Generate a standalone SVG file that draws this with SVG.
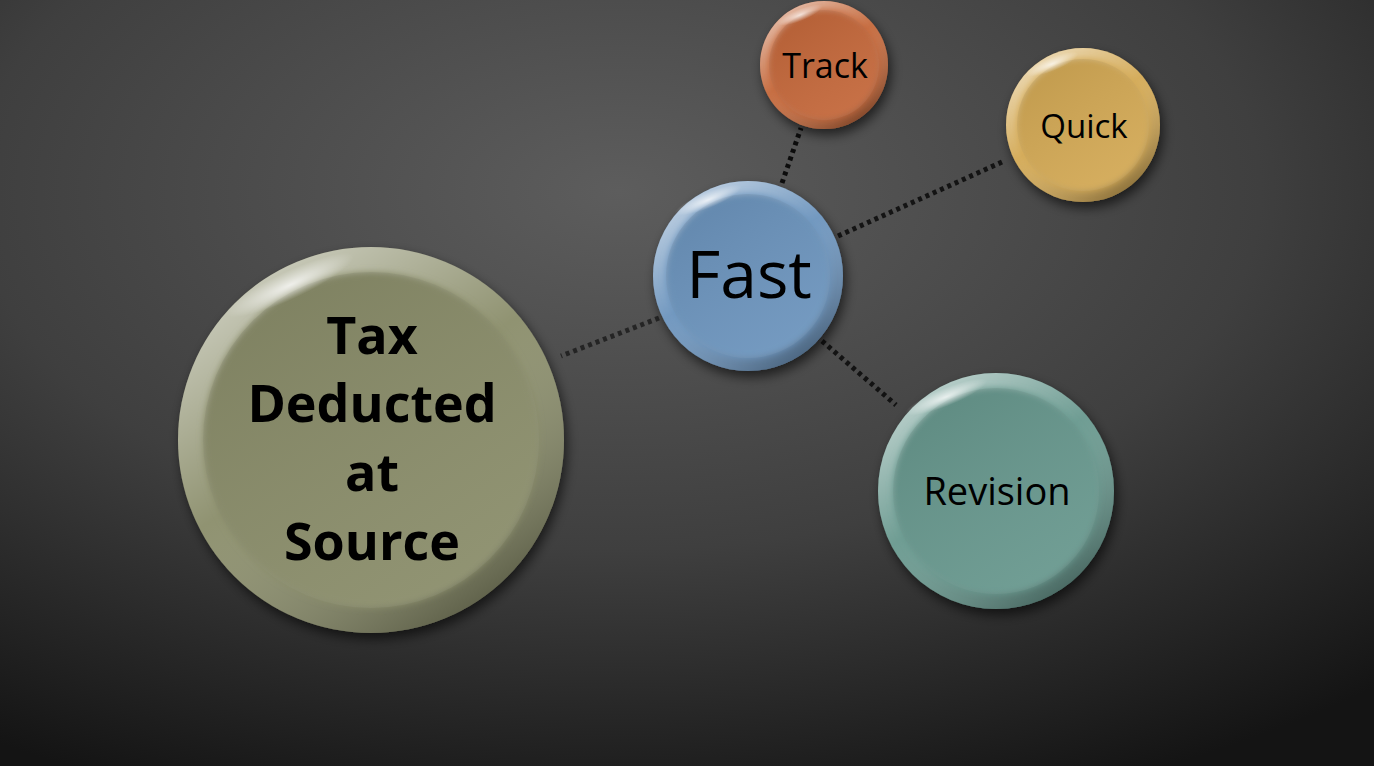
<svg xmlns="http://www.w3.org/2000/svg" width="1374" height="766" viewBox="0 0 1374 766">
<style>
.lbl{font-family:"Open Sans","Noto Sans",sans-serif;fill:#000;text-anchor:middle}
.b{font-weight:bold}
.conn{stroke:#000;stroke-width:5;stroke-dasharray:4 4;fill:none}
.rim{fill:url(#rimG)}
.inner{fill:url(#innerG)}
</style>
<defs>
<radialGradient id="bg" cx="0.45" cy="0.25" r="0.85">
<stop offset="0" stop-color="#5d5d5d"/>
<stop offset="0.55" stop-color="#3f3f3f"/>
<stop offset="1" stop-color="#141414"/>
</radialGradient>
<linearGradient id="rimG" x1="0.2" y1="0.05" x2="0.8" y2="0.95">
<stop offset="0" stop-color="#fff" stop-opacity="0.55"/>
<stop offset="0.45" stop-color="#fff" stop-opacity="0.05"/>
<stop offset="1" stop-color="#000" stop-opacity="0.35"/>
</linearGradient>
<linearGradient id="innerG" x1="0.2" y1="0.05" x2="0.8" y2="0.95">
<stop offset="0" stop-color="#000" stop-opacity="0.08"/>
<stop offset="1" stop-color="#fff" stop-opacity="0.06"/>
</linearGradient>
<radialGradient id="spec" cx="0.5" cy="0.5" r="0.5">
<stop offset="0" stop-color="#fff" stop-opacity="0.75"/>
<stop offset="1" stop-color="#fff" stop-opacity="0"/>
</radialGradient>
<linearGradient id="fadeA" x1="0" y1="0" x2="1" y2="0">
<stop offset="0" stop-color="#000"/>
<stop offset="1" stop-color="#000" stop-opacity="0.3"/>
</linearGradient>
<filter id="sh" x="-20%" y="-20%" width="140%" height="140%">
<feDropShadow dx="3" dy="6" stdDeviation="6" flood-color="#000" flood-opacity="0.6"/>
</filter>
<filter id="blur"><feGaussianBlur stdDeviation="3"/></filter>
</defs>
<rect width="1374" height="766" fill="url(#bg)"/>
<g id="connectors">
<line class="conn" x1="782" y1="183" x2="801" y2="128" stroke-opacity="0.85"/>
<line class="conn" x1="838" y1="236" x2="1002" y2="162" stroke-opacity="0.75"/>
<line class="conn" x1="659" y1="318" x2="561" y2="356" stroke-opacity="0.55"/>
<line class="conn" x1="822" y1="341" x2="896" y2="405" stroke-opacity="0.75"/>
</g>
<g id="node-tax">
<circle cx="371" cy="440" r="193" fill="#8a8d6b" filter="url(#sh)"/>
<circle class="rim" cx="371" cy="440" r="193"/>
<circle cx="371" cy="440" r="168" fill="#8a8d6b" filter="url(#blur)"/>
<circle class="inner" cx="371" cy="440" r="168"/>
<ellipse cx="290" cy="285" rx="70" ry="14" transform="rotate(-25 290 285)" fill="url(#spec)"/>
<text class="lbl b" x="372" y="354" font-size="52">Tax</text>
<text class="lbl b" x="372" y="422" font-size="52">Deducted</text>
<text class="lbl b" x="372" y="491" font-size="52">at</text>
<text class="lbl b" x="372" y="560" font-size="52">Source</text>
</g>
<g id="node-fast">
<circle cx="748" cy="276" r="95" fill="#6c94bd" filter="url(#sh)"/>
<circle class="rim" cx="748" cy="276" r="95"/>
<circle cx="748" cy="276" r="82" fill="#6c94bd" filter="url(#blur)"/>
<circle class="inner" cx="748" cy="276" r="82"/>
<ellipse cx="708" cy="200" rx="36" ry="8" transform="rotate(-22 708 200)" fill="url(#spec)"/>
<text class="lbl" x="749" y="298" font-size="66">Fast</text>
</g>
<g id="node-track">
<circle cx="824" cy="65" r="64" fill="#c4683a" filter="url(#sh)"/>
<circle class="rim" cx="824" cy="65" r="64"/>
<circle cx="824" cy="65" r="55" fill="#c4683a" filter="url(#blur)"/>
<circle class="inner" cx="824" cy="65" r="55"/>
<ellipse cx="800" cy="15" rx="24" ry="6" transform="rotate(-22 800 15)" fill="url(#spec)"/>
<text class="lbl" x="825" y="78" font-size="34">Track</text>
</g>
<g id="node-quick">
<circle cx="1083" cy="125" r="77" fill="#d3a954" filter="url(#sh)"/>
<circle class="rim" cx="1083" cy="125" r="77"/>
<circle cx="1083" cy="125" r="66" fill="#d3a954" filter="url(#blur)"/>
<circle class="inner" cx="1083" cy="125" r="66"/>
<ellipse cx="1052" cy="64" rx="28" ry="7" transform="rotate(-22 1052 64)" fill="url(#spec)"/>
<text class="lbl" x="1084" y="138" font-size="33">Quick</text>
</g>
<g id="node-revision">
<circle cx="996" cy="491" r="118" fill="#68988e" filter="url(#sh)"/>
<circle class="rim" cx="996" cy="491" r="118"/>
<circle cx="996" cy="491" r="103" fill="#68988e" filter="url(#blur)"/>
<circle class="inner" cx="996" cy="491" r="103"/>
<ellipse cx="946" cy="397" rx="44" ry="9" transform="rotate(-22 946 397)" fill="url(#spec)"/>
<text class="lbl" x="997" y="505" font-size="38">Revision</text>
</g>
</svg>
